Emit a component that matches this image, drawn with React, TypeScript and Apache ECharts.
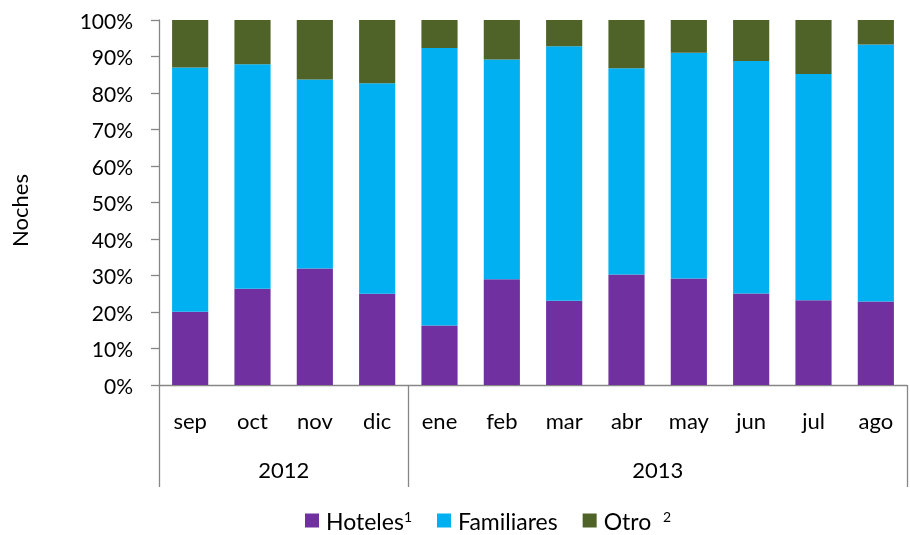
import React, { useEffect, useRef } from "react";
import * as echarts from "echarts";

const months = ["sep", "oct", "nov", "dic", "ene", "feb", "mar", "abr", "may", "jun", "jul", "ago"];
const yearSlots = ["", "", "2012", "", "", "", "", "", "2013", "", "", "", ""];
const hoteles = [20.1, 26.4, 31.9, 25.0, 16.3, 29.0, 23.1, 30.3, 29.2, 25.1, 23.2, 22.9];
const familiares = [66.9, 61.5, 51.8, 57.7, 76.0, 60.2, 69.7, 56.5, 61.8, 63.7, 62.0, 70.4];
const otro = [13.0, 12.1, 16.3, 17.3, 7.7, 10.8, 7.2, 13.2, 9.0, 11.2, 14.8, 6.7];
const yTicks = { min: 0, max: 100, interval: 10 };

const FONT = "Lato, 'Open Sans', sans-serif";
const GREY = "#868686";

export default function App() {
  const ref = useRef<HTMLDivElement>(null);
  useEffect(() => {
    if (!ref.current) return;
    const chart = echarts.init(ref.current, null, { renderer: "svg" });
    const barCommon = { type: "bar", stack: "total", barCategoryGap: "42%" };
    chart.setOption({
      animation: false,
      textStyle: { fontFamily: FONT, color: "#000" },
      grid: { left: 149.3, width: 771.6, top: 20, height: 365, containLabel: false },
      legend: {
        left: 300,
        top: 504,
        itemWidth: 14,
        itemHeight: 14,
        itemGap: 25,
        icon: "rect",
        textStyle: {
          fontFamily: FONT,
          fontSize: 23,
          lineHeight: 23,
          color: "#000",
          padding: [0, 0, 0, 2],
          rich: {
            sup: { fontSize: 14, fontFamily: FONT, color: "#000", verticalAlign: "top", lineHeight: 12 },
          },
        },
        formatter: (name: string) =>
          name === "Hoteles" ? "Hoteles{sup|1}" : name === "Otro" ? "Otro  {sup|2}" : name,
        data: ["Hoteles", "Familiares", "Otro"],
      },
      xAxis: [
        {
          type: "category",
          data: months,
          position: "bottom",
          axisLine: { lineStyle: { color: GREY, width: 1.3 } },
          axisTick: {
            show: true,
            interval: (i: number) => i === 0 || i === 4,
            length: 102,
            lineStyle: { color: GREY, width: 1.3 },
          },
          axisLabel: { interval: 0, fontSize: 22, color: "#000", fontFamily: FONT, margin: 24 },
        },
        {
          type: "category",
          data: yearSlots,
          boundaryGap: false,
          position: "bottom",
          axisLine: { show: false },
          axisTick: { show: false },
          axisLabel: { interval: 0, fontSize: 22, color: "#000", fontFamily: FONT, margin: 73 },
        },
      ],
      yAxis: {
        type: "value",
        min: yTicks.min,
        max: yTicks.max,
        interval: yTicks.interval,
        name: "Noches",
        nameLocation: "middle",
        nameGap: 129,
        nameRotate: 90,
        nameTextStyle: { fontSize: 22, color: "#000", fontFamily: FONT, padding: [0, 16, 0, 0] },
        axisLine: { show: true, lineStyle: { color: GREY, width: 1.3 } },
        axisTick: { show: true, length: 8, lineStyle: { color: GREY, width: 1.3 } },
        splitLine: { show: false },
        axisLabel: { formatter: "{value}%", fontSize: 21, color: "#000", fontFamily: FONT, margin: 26 },
      },
      series: [
        { ...barCommon, name: "Hoteles", data: hoteles, itemStyle: { color: "#7030A0" } },
        { ...barCommon, name: "Familiares", data: familiares, itemStyle: { color: "#00B0F0" } },
        { ...barCommon, name: "Otro", data: otro, itemStyle: { color: "#4F6228" } },
      ],
    });
    return () => chart.dispose();
  }, []);
  return (
    <div
      ref={ref}
      style={{ position: "fixed", left: 0, top: 0, width: 910, height: 535 }}
    />
  );
}
